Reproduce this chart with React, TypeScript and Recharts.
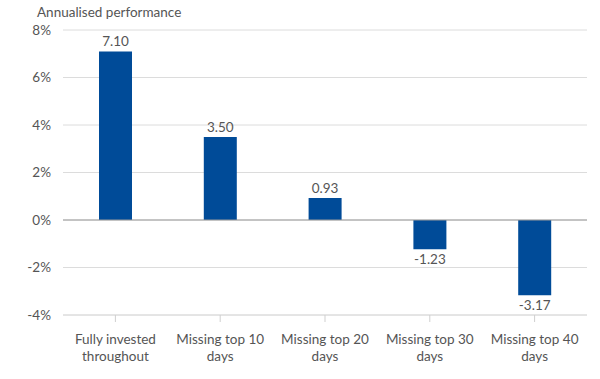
import React from 'react'
import {
  BarChart,
  Bar,
  XAxis,
  YAxis,
  CartesianGrid,
  ReferenceLine,
  LabelList,
  Text,
} from 'recharts'

const categories = [
  'Fully invested throughout',
  'Missing top 10 days',
  'Missing top 20 days',
  'Missing top 30 days',
  'Missing top 40 days',
]
const performance = [7.1, 3.5, 0.93, -1.23, -3.17]
const yTicks = [-4, -2, 0, 2, 4, 6, 8]

const data = categories.map((name, i) => ({ name, value: performance[i] }))

const FONT = 'Lato, sans-serif'
const TEXT_COLOR = '#555'

// value labels sit above positive bars and below negative ones
const ValueLabel = (props: any) => {
  const { x, y, width, height, value } = props
  const neg = value < 0
  const top = Math.min(y, y + height)
  const bottom = Math.max(y, y + height)
  return (
    <text
      x={x + width / 2}
      y={neg ? bottom + 15 : top - 5}
      textAnchor="middle"
      fontSize={13.5}
      fontFamily={FONT}
      fill={TEXT_COLOR}
    >
      {value.toFixed(2)}
    </text>
  )
}

const CategoryTick = (props: any) => {
  const { x, y, payload } = props
  return (
    <Text
      x={x}
      y={y + 10}
      width={100}
      textAnchor="middle"
      verticalAnchor="start"
      fontSize={13.5}
      fontFamily={FONT}
      fill={TEXT_COLOR}
      lineHeight={17}
    >
      {payload.value}
    </Text>
  )
}

export default function App() {
  return (
    <div style={{ position: 'absolute', left: 0, top: 0, width: 600, height: 379, background: '#fff' }}>
      <div
        style={{
          position: 'absolute',
          left: 37,
          top: 4,
          fontFamily: FONT,
          fontSize: 13.5,
          color: TEXT_COLOR,
        }}
      >
        Annualised performance
      </div>
      <BarChart
        width={600}
        height={379}
        data={data}
        margin={{ top: 30, right: 13, left: 0, bottom: 0 }}
      >
        <CartesianGrid vertical={false} stroke="#dcdcdc" />
        <XAxis
          dataKey="name"
          interval={0}
          height={64}
          axisLine={{ stroke: '#dcdcdc' }}
          tickLine={{ stroke: '#cfcfcf' }}
          tickSize={7}
          tick={<CategoryTick />}
        />
        <YAxis
          width={63}
          domain={[-4, 8]}
          ticks={yTicks}
          axisLine={false}
          tickLine={false}
          tickFormatter={(v: number) => `${v}%`}
          tick={{ fontSize: 13.5, fontFamily: FONT, fill: TEXT_COLOR }}
          tickMargin={6}
        />
        <ReferenceLine y={0} stroke="#999" strokeWidth={1.2} />
        <Bar dataKey="value" fill="#004b98" barSize={33} isAnimationActive={false}>
          <LabelList dataKey="value" content={<ValueLabel />} />
        </Bar>
      </BarChart>
    </div>
  )
}
